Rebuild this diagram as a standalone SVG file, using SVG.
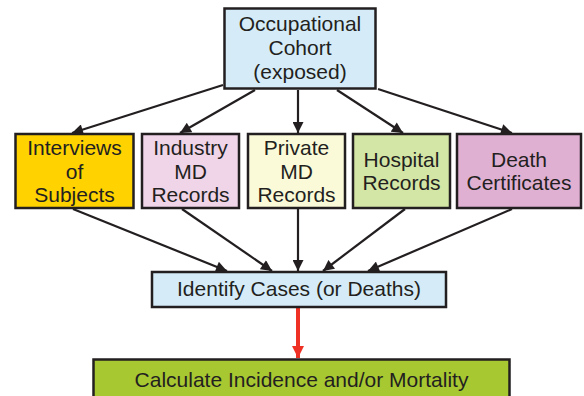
<svg xmlns="http://www.w3.org/2000/svg" width="584" height="396" viewBox="0 0 584 396">
<style>
.box{stroke:#231f20;stroke-width:2.5}
.t{font-family:"Liberation Sans",Arial,sans-serif;font-size:21px;fill:#231f20;text-anchor:middle}
.c{stroke:#231f20;stroke-width:2.2;fill:none}
</style>
<defs>
<marker id="ah" viewBox="0 0 10 10" refX="10" refY="5" markerWidth="5.5" markerHeight="5" orient="auto" markerUnits="strokeWidth">
<path d="M0,0 L10,5 L0,10 z" fill="#231f20"/>
</marker>
<marker id="ar" viewBox="0 0 10 10" refX="10" refY="5" markerWidth="3" markerHeight="3" orient="auto" markerUnits="strokeWidth">
<path d="M0,0 L10,5 L0,10 z" fill="#ee3124"/>
</marker>
</defs>
<g id="connectors">
<line class="c" x1="223" y1="85" x2="72" y2="133" marker-end="url(#ah)"/>
<line class="c" x1="255" y1="90" x2="180" y2="133" marker-end="url(#ah)"/>
<line class="c" x1="298" y1="90" x2="298" y2="133" marker-end="url(#ah)"/>
<line class="c" x1="337" y1="90" x2="403" y2="133" marker-end="url(#ah)"/>
<line class="c" x1="378" y1="89" x2="512" y2="133" marker-end="url(#ah)"/>
<line class="c" x1="73" y1="209" x2="227" y2="271" marker-end="url(#ah)"/>
<line class="c" x1="182" y1="209" x2="272" y2="271" marker-end="url(#ah)"/>
<line class="c" x1="298" y1="209" x2="298" y2="271" marker-end="url(#ah)"/>
<line class="c" x1="405" y1="209" x2="323" y2="271" marker-end="url(#ah)"/>
<line class="c" x1="512" y1="209" x2="368" y2="271" marker-end="url(#ah)"/>
<line x1="298" y1="308" x2="298" y2="358" stroke="#ee3124" stroke-width="4" marker-end="url(#ar)"/>
</g>
<g id="cohort">
<rect class="box" x="224.5" y="8.5" width="151" height="80" fill="#d5ecf8"/>
<text class="t" x="300" y="31">Occupational</text>
<text class="t" x="300" y="55">Cohort</text>
<text class="t" x="300" y="79">(exposed)</text>
</g>
<g id="interviews">
<rect class="box" x="15.5" y="134" width="118" height="74" fill="#ffd200"/>
<text class="t" x="74.5" y="155">Interviews</text>
<text class="t" x="74.5" y="179">of</text>
<text class="t" x="74.5" y="202">Subjects</text>
</g>
<g id="industry">
<rect class="box" x="142" y="134" width="97" height="74" fill="#f0d5e8"/>
<text class="t" x="190.5" y="155">Industry</text>
<text class="t" x="190.5" y="179">MD</text>
<text class="t" x="190.5" y="202">Records</text>
</g>
<g id="private">
<rect class="box" x="248" y="134" width="97" height="74" fill="#fafad8"/>
<text class="t" x="296.5" y="155">Private</text>
<text class="t" x="296.5" y="179">MD</text>
<text class="t" x="296.5" y="202">Records</text>
</g>
<g id="hospital">
<rect class="box" x="353" y="134" width="97" height="74" fill="#d4e6a5"/>
<text class="t" x="401.5" y="167">Hospital</text>
<text class="t" x="401.5" y="190">Records</text>
</g>
<g id="death">
<rect class="box" x="457" y="134" width="124" height="74" fill="#e0b0d3"/>
<text class="t" x="519" y="167">Death</text>
<text class="t" x="519" y="190">Certificates</text>
</g>
<g id="identify">
<rect class="box" x="152" y="272" width="294" height="35" fill="#d5ecf8"/>
<text class="t" x="299" y="296">Identify Cases (or Deaths)</text>
</g>
<g id="calculate">
<rect class="box" x="93.5" y="359.5" width="416" height="50" fill="#a8c832"/>
<text class="t" x="301.5" y="387">Calculate Incidence and/or Mortality</text>
</g>
</svg>
